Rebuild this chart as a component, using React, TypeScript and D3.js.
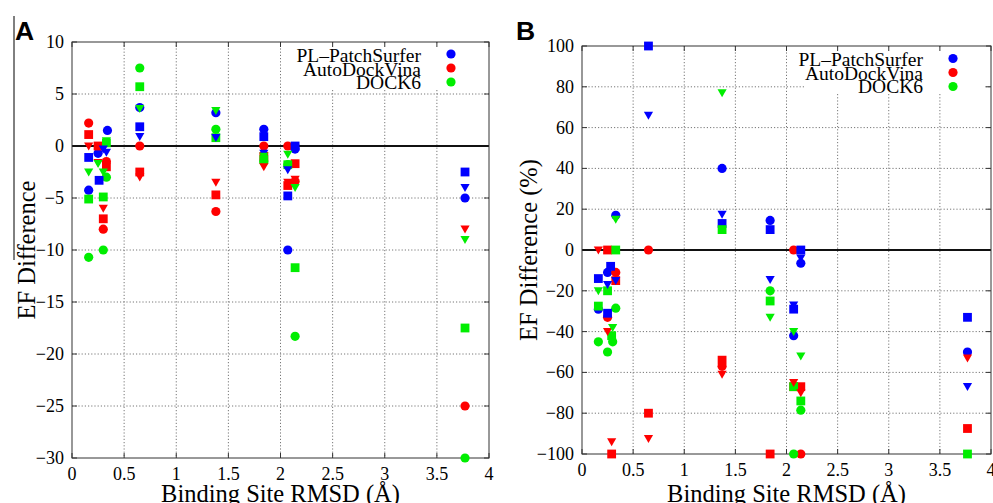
import React from "react";
import * as d3 from "d3";

type Pt = [number, number];

const rmsdTicks = [0, 0.5, 1, 1.5, 2, 2.5, 3, 3.5, 4];
const efTicks = [10, 5, 0, -5, -10, -15, -20, -25, -30];
const pctTicks = [100, 80, 60, 40, 20, 0, -20, -40, -60, -80, -100];
const methods = ["PL\u2013PatchSurfer", "AutoDockVina", "DOCK6"];
const methodColors = ["#0000ff", "#ff0000", "#00ee00"];

// Panel A: EF difference (x = binding site RMSD, y = EF difference)
const efPLCircle: Pt[] = [[0.16, -4.25], [0.34, 1.5], [0.25, -0.7], [0.65, 3.7], [1.38, 3.2], [1.84, 1.6], [2.07, -10], [2.14, -0.3], [3.77, -5]];
const efPLSquare: Pt[] = [[0.16, -1.1], [0.26, -3.3], [0.65, 1.85], [1.84, 0.9], [2.07, -4.8], [2.14, 0], [3.77, -2.5]];
const efPLTriangle: Pt[] = [[0.30, -0.3], [0.33, -0.6], [0.65, 0.9], [1.38, 0.8], [1.84, -0.7], [2.07, -2.3], [2.14, -0.2], [3.77, -4]];
const efVinaCircle: Pt[] = [[0.16, 2.2], [0.30, -8.0], [0.33, -1.5], [0.65, 0], [1.38, -6.3], [1.84, 0], [2.07, 0], [2.14, -3.4], [3.77, -25]];
const efVinaSquare: Pt[] = [[0.16, 1.1], [0.25, 0], [0.30, -7.0], [0.33, -2.0], [0.65, -2.5], [1.38, -4.7], [1.84, -1.0], [2.07, -3.8], [2.14, -1.7]];
const efVinaTriangle: Pt[] = [[0.16, 0], [0.25, -1.6], [0.30, -6.0], [0.65, -3.0], [1.38, -3.5], [1.84, -2.0], [2.07, -3.5], [2.14, -3.2], [3.77, -8.0]];
const efDockCircle: Pt[] = [[0.16, -10.7], [0.30, -10.0], [0.33, -3.0], [0.65, 7.5], [1.38, 1.6], [1.84, -1.5], [2.07, -1.8], [2.14, -18.3], [3.77, -30]];
const efDockSquare: Pt[] = [[0.16, -5.1], [0.30, -4.9], [0.33, 0.3], [0.65, 5.7], [1.38, 0.8], [1.84, -1.3], [2.07, -1.8], [2.14, -11.7], [3.77, -17.5]];
const efDockTriangle: Pt[] = [[0.16, -2.5], [0.25, -1.7], [0.30, -2.5], [0.33, 0.5], [0.65, 3.6], [1.38, 3.4], [1.84, -1.0], [2.07, -0.8], [2.14, -4.0], [3.77, -9.0]];

// Panel B: EF difference (%)
const pctPLCircle: Pt[] = [[0.16, -29], [0.25, -11], [0.33, 17], [1.37, 40], [1.84, 14.5], [2.07, -42], [2.14, -6.5], [3.77, -50]];
const pctPLSquare: Pt[] = [[0.16, -14], [0.25, -31], [0.28, -8], [0.65, 100], [1.37, 13], [1.84, 10], [2.07, -29], [2.14, 0], [3.77, -33]];
const pctPLTriangle: Pt[] = [[0.25, -17], [0.33, -15], [0.65, 66], [1.37, 17.5], [1.84, -14.5], [2.07, -27], [2.14, -4], [3.77, -67]];
const pctVinaCircle: Pt[] = [[0.25, -33], [0.33, -11], [0.65, 0], [1.37, -57], [2.07, 0], [2.14, -100]];
const pctVinaSquare: Pt[] = [[0.25, 0], [0.29, -100], [0.33, -15], [0.65, -80], [1.37, -54], [1.84, -100], [2.07, -67], [2.14, -67], [3.77, -87.5]];
const pctVinaTriangle: Pt[] = [[0.16, 0], [0.25, -40], [0.29, -94], [0.65, -92.5], [1.37, -61], [2.07, -65], [2.14, -70], [3.77, -53]];
const pctDockCircle: Pt[] = [[0.16, -45], [0.25, -50], [0.30, -45], [0.33, -28.5], [1.84, -20], [2.07, -100], [2.14, -78.5]];
const pctDockSquare: Pt[] = [[0.16, -27.5], [0.25, -20], [0.29, -42], [0.33, 0], [1.37, 10], [1.84, -25], [2.07, -67], [2.14, -74], [3.77, -100]];
const pctDockTriangle: Pt[] = [[0.16, -20], [0.30, -38], [0.33, 15], [1.37, 77], [1.84, -33], [2.07, -40], [2.14, -52]];

type Shape = "circle" | "square" | "triangle";
interface Series { method: number; shape: Shape; points: Pt[] }

const seriesA: Series[] = [
  { method: 0, shape: "circle", points: efPLCircle },
  { method: 1, shape: "circle", points: efVinaCircle },
  { method: 2, shape: "circle", points: efDockCircle },
  { method: 0, shape: "square", points: efPLSquare },
  { method: 1, shape: "square", points: efVinaSquare },
  { method: 2, shape: "square", points: efDockSquare },
  { method: 0, shape: "triangle", points: efPLTriangle },
  { method: 1, shape: "triangle", points: efVinaTriangle },
  { method: 2, shape: "triangle", points: efDockTriangle },
];
const seriesB: Series[] = [
  { method: 0, shape: "circle", points: pctPLCircle },
  { method: 1, shape: "circle", points: pctVinaCircle },
  { method: 2, shape: "circle", points: pctDockCircle },
  { method: 0, shape: "square", points: pctPLSquare },
  { method: 1, shape: "square", points: pctVinaSquare },
  { method: 2, shape: "square", points: pctDockSquare },
  { method: 0, shape: "triangle", points: pctPLTriangle },
  { method: 1, shape: "triangle", points: pctVinaTriangle },
  { method: 2, shape: "triangle", points: pctDockTriangle },
];

const SERIF = "'Liberation Serif', 'Times New Roman', serif";
const SANS = "'Liberation Sans', Arial, sans-serif";

function Marker({ shape, x, y, color }: { shape: Shape; x: number; y: number; color: string }) {
  if (shape === "circle") return <circle cx={x} cy={y} r={4.6} fill={color} />;
  if (shape === "square") return <rect x={x - 4.4} y={y - 4.4} width={8.8} height={8.8} fill={color} />;
  const w = 4.6;
  return <path d={`M${x - w},${y - 3.6}L${x + w},${y - 3.6}L${x},${y + 4.4}Z`} fill={color} />;
}

interface PanelProps {
  letter: string;
  letterX: number;
  left: number; right: number; top: number; bottom: number;
  yDomain: [number, number];
  yTicks: number[];
  yTitle: string;
  yTitleX: number;
  series: Series[];
  legend: { boxX: number; boxY: number; boxW: number; boxH: number; textX: number; markX: number; baselines: number[]; marks: number[] };
}

function Panel(p: PanelProps) {
  const x = d3.scaleLinear().domain([0, 4]).range([p.left, p.right]);
  const y = d3.scaleLinear().domain(p.yDomain).range([p.bottom, p.top]);
  const cx = (p.left + p.right) / 2;
  const cy = (p.top + p.bottom) / 2;
  const lg = p.legend;
  return (
    <g>
      <text x={p.letterX} y={40} fontFamily={SANS} fontWeight="bold" fontSize={26.5}>{p.letter}</text>
      {rmsdTicks.slice(1, -1).map((t) => (
        <line key={"gx" + t} x1={x(t)} x2={x(t)} y1={p.top} y2={p.bottom} stroke="#777" strokeWidth={1} strokeDasharray="1.2,2" />
      ))}
      {p.yTicks.filter((t) => t !== 0 && t !== p.yDomain[0] && t !== p.yDomain[1]).map((t) => (
        <line key={"gy" + t} x1={p.left} x2={p.right} y1={y(t)} y2={y(t)} stroke="#777" strokeWidth={1} strokeDasharray="1.2,2" />
      ))}
      <rect x={lg.boxX} y={lg.boxY} width={lg.boxW} height={lg.boxH} fill="#fff" />
      {rmsdTicks.map((t) => (
        <g key={"tx" + t}>
          <line x1={x(t)} x2={x(t)} y1={p.bottom} y2={p.bottom - 5} stroke="#333" />
          <line x1={x(t)} x2={x(t)} y1={p.top} y2={p.top + 5} stroke="#333" />
          <text x={x(t)} y={p.bottom + 22} textAnchor="middle" fontFamily={SERIF} fontSize={18}>{String(t)}</text>
        </g>
      ))}
      {p.yTicks.map((t) => (
        <g key={"ty" + t}>
          <line x1={p.left} x2={p.left + 5} y1={y(t)} y2={y(t)} stroke="#333" />
          <line x1={p.right} x2={p.right - 5} y1={y(t)} y2={y(t)} stroke="#333" />
          <text x={p.left - 8} y={y(t) + 6} textAnchor="end" fontFamily={SERIF} fontSize={18}>{t < 0 ? "\u2212" + Math.abs(t) : String(t)}</text>
        </g>
      ))}
      <line x1={p.left} x2={p.right} y1={y(0)} y2={y(0)} stroke="#111" strokeWidth={2} />
      <rect x={p.left} y={p.top} width={p.right - p.left} height={p.bottom - p.top} fill="none" stroke="#333" strokeWidth={1} />
      {p.series.map((s, si) =>
        s.points.map((pt, i) => (
          <Marker key={si + "-" + i} shape={s.shape} x={x(pt[0])} y={y(pt[1])} color={methodColors[s.method]} />
        ))
      )}
      {methods.map((m, i) => (
        <g key={m}>
          <text x={lg.textX} y={lg.baselines[i]} textAnchor="end" fontFamily={SERIF} fontSize={19.5}>{m}</text>
          <circle cx={lg.markX} cy={lg.marks[i]} r={4.6} fill={methodColors[i]} />
        </g>
      ))}
      <text transform={`translate(${p.yTitleX},${cy}) rotate(-90)`} textAnchor="middle" dominantBaseline="central" fontFamily={SERIF} fontSize={24.5}>{p.yTitle}</text>
      <text x={cx} y={502} textAnchor="middle" fontFamily={SERIF} fontSize={24.5}>Binding Site RMSD (Å)</text>
    </g>
  );
}

export default function App() {
  return (
    <svg width={993} height={503} style={{ position: "absolute", left: 0, top: 0, background: "#fff" }}>
      <rect x={0} y={0} width={993} height={503} fill="#fff" />
      <line x1={14} x2={14} y1={16} y2={260} stroke="#000" strokeWidth={1} />
      <Panel
        letter="A" letterX={15}
        left={72} right={489} top={42} bottom={458}
        yDomain={[-30, 10]} yTicks={efTicks}
        yTitle="EF Difference" yTitleX={26}
        series={seriesA}
        legend={{ boxX: 287, boxY: 45, boxW: 178, boxH: 45, textX: 421, markX: 451, baselines: [62, 75.5, 88.5], marks: [54, 68, 82] }}
      />
      <Panel
        letter="B" letterX={516}
        left={582} right={991} top={46} bottom={454}
        yDomain={[-100, 100]} yTicks={pctTicks}
        yTitle="EF Difference (%)" yTitleX={528}
        series={seriesB}
        legend={{ boxX: 805, boxY: 49, boxW: 180, boxH: 45, textX: 923, markX: 953, baselines: [65.5, 79.5, 93], marks: [58.5, 72.5, 86.5] }}
      />
    </svg>
  );
}
